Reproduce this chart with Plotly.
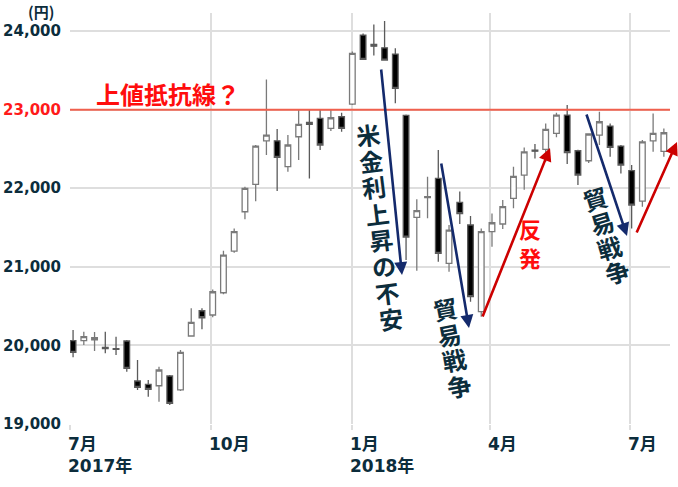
import plotly.graph_objects as go
import math

# ---------------- data (weekly OHLC) ----------------
weeks = [
    "2017-07-03", "2017-07-10", "2017-07-17", "2017-07-24", "2017-07-31",
    "2017-08-07", "2017-08-14", "2017-08-21", "2017-08-28", "2017-09-04",
    "2017-09-11", "2017-09-18", "2017-09-25", "2017-10-02", "2017-10-09",
    "2017-10-16", "2017-10-23", "2017-10-30", "2017-11-06", "2017-11-13",
    "2017-11-20", "2017-11-27", "2017-12-04", "2017-12-11", "2017-12-18",
    "2017-12-25", "2018-01-01", "2018-01-08", "2018-01-15", "2018-01-22",
    "2018-01-29", "2018-02-05", "2018-02-12", "2018-02-19", "2018-02-26",
    "2018-03-05", "2018-03-12", "2018-03-19", "2018-03-26", "2018-04-02",
    "2018-04-09", "2018-04-16", "2018-04-23", "2018-04-30", "2018-05-07",
    "2018-05-14", "2018-05-21", "2018-05-28", "2018-06-04", "2018-06-11",
    "2018-06-18", "2018-06-25", "2018-07-02", "2018-07-09", "2018-07-16",
    "2018-07-23",
]
open_ = [
    20060, 20060, 20070, 19975, 19958, 20056, 19547, 19505, 19487, 19611,
    19433, 20120, 20441, 20387, 20670, 21201, 21701, 22049, 22604, 22604,
    22274, 22655, 22838, 22889, 22762, 22910, 23071, 23949, 23830, 23787,
    23707, 22926, 21630, 21880, 22125, 21044, 21820, 21532, 20429, 21447,
    21545, 21871, 22168, 22485, 22494, 22698, 22931, 22477, 22350, 22677,
    22791, 22537, 22223, 21837, 22604, 22469,
]
high = [
    20196, 20174, 20170, 20174, 20111, 20069, 19814, 19560, 19729, 19623,
    19941, 20472, 20472, 20713, 21205, 21489, 22019, 22550, 23385, 22753,
    22677, 23003, 22995, 22995, 22995, 22960, 23740, 23970, 24084, 24127,
    23780, 22939, 21859, 22146, 22486, 21532, 21959, 21646, 21489, 21680,
    21850, 22274, 22520, 22563, 22824, 22960, 23058, 22490, 22700, 22973,
    22825, 22550, 22295, 22613, 22952, 22760,
]
low = [
    19849, 20005, 19930, 19900, 19878, 19665, 19433, 19347, 19284, 19242,
    19420, 20110, 20205, 20357, 20650, 21179, 21604, 21834, 22422, 21964,
    22211, 22359, 22125, 22486, 22727, 22718, 23060, 23631, 23690, 23622,
    23080, 21086, 20950, 21617, 21064, 20937, 21545, 20557, 20365, 21255,
    21480, 21744, 21980, 22378, 22337, 22650, 22308, 22041, 22320, 22550,
    22400, 22189, 21489, 21766, 22464, 22400,
]
close = [
    19912, 20111, 20100, 19960, 19950, 19709, 19467, 19441, 19687, 19263,
    19912, 20294, 20352, 20683, 21150, 21447, 21998, 22537, 22677, 22393,
    22550, 22812, 22812, 22550, 22897, 22762, 23716, 23640, 23808, 23631,
    23270, 21379, 21714, 21893, 21170, 21468, 21676, 20620, 21447, 21561,
    21765, 22150, 22464, 22472, 22748, 22931, 22452, 22168, 22690, 22846,
    22520, 22295, 21786, 22591, 22698, 22706,
]

y_ticks = [19000, 20000, 21000, 22000, 23000, 24000]
y_ticktext = ["19,000", "20,000", "21,000", "22,000",
              '<span style="color:#ff1a1a">23,000</span>', "24,000"]
x_ticks = ["2017-07-01", "2017-10-01", "2018-01-01", "2018-04-01", "2018-07-01"]
x_ticktext = ["7月<br>2017年", "10月", "1月<br>2018年", "4月", "7月"]
resistance = 23000

NAVY_TXT = "#0c2d3c"
NAVY_ARW = "#142a6c"
RED_ARW = "#cc0000"
RED_TXT = "#ff0d0d"

W, H = 678, 487
# plot area in page pixels
SX0, SX1, SY0, SY1 = 70, 670, 13, 424
PW, PH = SX1 - SX0, SY1 - SY0
L, T = SX0, SY0
R, B = W - SX1, H - SY1


def px(x):
    return (x - SX0) / PW


def py(y):
    return (SY1 - y) / PH


fig = go.Figure()
fig.add_trace(go.Candlestick(
    x=weeks, open=open_, high=high, low=low, close=close,
    increasing=dict(fillcolor="#ffffff", line=dict(color="#7a7a7a", width=1.3)),
    decreasing=dict(fillcolor="#000000", line=dict(color="#5a5a5a", width=1.3)),
    whiskerwidth=0, hoverinfo="skip", showlegend=False,
))

fig.add_hline(y=resistance, line=dict(color="#f0604e", width=2), layer="above")

annotations = []
# x tick labels (left aligned at the grid line)
for tv, tt in zip(x_ticks, x_ticktext):
    annotations.append(dict(
        x=tv, xref="x", y=0, yref="paper", text="<b>" + tt + "</b>",
        xanchor="left", yanchor="top", align="left", showarrow=False,
        xshift=-4, yshift=-8,
        font=dict(family="DejaVu Sans, Noto Sans CJK JP", size=17, color=NAVY_TXT),
    ))

# unit label
annotations.append(dict(
    x=px(41), y=py(12), xref="paper", yref="paper", text="<b>(円)</b>",
    showarrow=False, xanchor="center", yanchor="middle",
    font=dict(family="Noto Sans CJK JP", size=15, color=NAVY_TXT),
))

# resistance label
annotations.append(dict(
    x=px(168), y=py(93), xref="paper", yref="paper", text="<b>上値抵抗線？</b>",
    showarrow=False, xanchor="center", yanchor="middle",
    font=dict(family="Noto Sans CJK JP", size=24, color=RED_TXT),
))


def vtext(text, p0, p1, size, color):
    n = len(text)
    dx, dy = p1[0] - p0[0], p1[1] - p0[1]
    ang = -math.degrees(math.atan2(dx, dy))
    for i, ch in enumerate(text):
        t = i / (n - 1)
        annotations.append(dict(
            x=px(p0[0] + dx * t), y=py(p0[1] + dy * t), xref="paper", yref="paper",
            text="<b>" + ch + "</b>", showarrow=False, textangle=ang,
            xanchor="center", yanchor="middle",
            font=dict(family="Noto Sans CJK JP", size=size, color=color),
        ))


vtext("米金利上昇の不安", (367.5, 134), (390.5, 318.5), 24, NAVY_TXT)
vtext("貿易戦争", (444.5, 308.5), (459, 385), 24, NAVY_TXT)
vtext("貿易戦争", (594.5, 198.5), (616.5, 271.5), 24, NAVY_TXT)
vtext("反発", (530, 228), (530, 257), 22, RED_TXT)


def arrow(head, tail, color):
    annotations.append(dict(
        x=px(head[0]), y=py(head[1]), xref="paper", yref="paper",
        ax=tail[0] - head[0], ay=tail[1] - head[1],
        showarrow=True, arrowhead=2, arrowsize=1.0, arrowwidth=2.6,
        arrowcolor=color, text="",
    ))


arrow((402, 275), (381, 68), NAVY_ARW)
arrow((469, 328), (441, 162), NAVY_ARW)
arrow((550, 148), (482, 318), RED_ARW)
arrow((627, 236), (586, 113), NAVY_ARW)
arrow((677, 142), (636, 234), RED_ARW)

fig.update_layout(
    width=W, height=H,
    margin=dict(l=L, r=R, t=T, b=B, pad=0, autoexpand=False),
    paper_bgcolor="#ffffff", plot_bgcolor="#ffffff",
    boxgap=0.25,
    annotations=annotations,
    showlegend=False,
    hovermode=False,
)
fig.update_xaxes(
    type="date", range=["2017-07-01", "2018-07-27"],
    tickvals=x_ticks, showticklabels=False, automargin=False,
    showgrid=True, gridcolor="#dedede", gridwidth=1.5,
    ticks="outside", ticklen=5, tickcolor="#dedede", tickwidth=1.5,
    rangeslider=dict(visible=False), zeroline=False, showline=False,
)
fig.update_yaxes(
    range=[19000, 24230], tickvals=y_ticks, ticktext=y_ticktext, automargin=False,
    showgrid=True, gridcolor="#dedede", gridwidth=1.5,
    ticks="outside", ticklen=5, tickcolor="rgba(0,0,0,0)",
    tickfont=dict(family="DejaVu Sans", size=15, color=NAVY_TXT, weight="bold"),
    zeroline=False, showline=False,
)

fig.write_html("out.html", config={"displayModeBar": False},
               post_script="document.body.style.margin='0';")
